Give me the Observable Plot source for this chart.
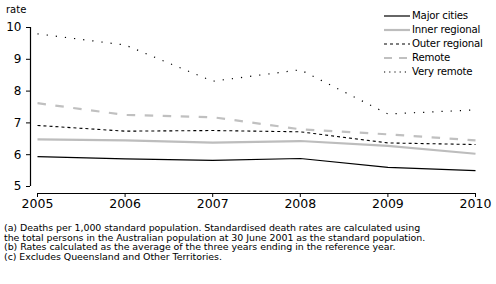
<!DOCTYPE html>
<html>
<head>
<meta charset="utf-8">
<script src="https://cdn.jsdelivr.net/npm/d3@7"></script>
<script src="https://cdn.jsdelivr.net/npm/@observablehq/plot@0.6"></script>
<style>
  html, body { margin: 0; padding: 0; background: #fff; }
  #wrap { position: relative; width: 496px; height: 284px; font-family: "DejaVu Sans", sans-serif; }
  #chart svg { display: block; }
  #legend { position: absolute; left: 384px; top: 9px; font-size: 10.2px; line-height: 14px; color: #000; }
  #legend .row { display: flex; align-items: center; height: 14px; white-space: nowrap; letter-spacing: -0.2px; }
  #legend svg { display: block; margin-right: 2px; }
  #notes { position: absolute; left: 4px; top: 223px; font-size: 9.45px; line-height: 9.6px; color: #000; white-space: nowrap; letter-spacing: -0.05px; }
  #ylabel { position: absolute; left: 6px; top: 4px; font-size: 10px; }
</style>
</head>
<body>
<div id="wrap">
  <div id="chart"></div>
  <div id="ylabel">rate</div>
  <div id="legend"></div>
  <div id="notes"></div>
</div>
<script>
const years = [2005, 2006, 2007, 2008, 2009, 2010];
const majorCities   = [5.94, 5.87, 5.82, 5.88, 5.60, 5.50];
const innerRegional = [6.48, 6.45, 6.38, 6.43, 6.28, 6.03];
const outerRegional = [6.92, 6.74, 6.76, 6.72, 6.37, 6.32];
const remote        = [7.62, 7.25, 7.18, 6.80, 6.64, 6.45];
const veryRemote    = [9.80, 9.45, 8.31, 8.67, 7.28, 7.41];

const seriesNames = ["Major cities", "Inner regional", "Outer regional", "Remote", "Very remote"];
const seriesValues = [majorCities, innerRegional, outerRegional, remote, veryRemote];
const yTicks = [5, 6, 7, 8, 9, 10];
const xTicks = years;
const footnotes = [
  "(a) Deaths per 1,000 standard population. Standardised death rates are calculated using",
  "the total persons in the Australian population at 30 June 2001 as the standard population.",
  "(b) Rates calculated as the average of the three years ending in the reference year.",
  "(c) Excludes Queensland and Other Territories."
];

const styles = {
  "Major cities":   {stroke: "#000", strokeWidth: 1.2, dash: null, legendDash: null},
  "Inner regional": {stroke: "#bdbdbd", strokeWidth: 2.2, dash: null, legendDash: null},
  "Outer regional": {stroke: "#000", strokeWidth: 1.1, dash: "3,3", legendDash: "3,3"},
  "Remote":         {stroke: "#c0c0c0", strokeWidth: 2.2, dash: "8.5,9.5", legendDash: "8,7"},
  "Very remote":    {stroke: "#000", strokeWidth: 1.2, dash: "1.2,8", legendDash: "1.2,4"}
};

const data = seriesNames.map((name, i) => years.map((yr, j) => ({series: name, year: yr, value: seriesValues[i][j]})));

const lineMarks = data.map((rows) => {
  const s = styles[rows[0].series];
  return Plot.line(rows, {x: "year", y: "value", stroke: s.stroke, strokeWidth: s.strokeWidth, strokeDasharray: s.dash, strokeLinecap: "butt"});
});

const chart = Plot.plot({
  width: 496,
  height: 215,
  marginLeft: 30,
  marginRight: 21,
  marginTop: 27,
  marginBottom: 22,
  style: {fontFamily: "'DejaVu Sans', sans-serif", fontSize: "12px", color: "#000", background: "#fff"},
  x: {domain: [2005, 2010], range: [37, 475]},
  y: {domain: [5, 10], range: [186, 27]},
  marks: [
    Plot.ruleX([2005], {y1: 5, y2: 10, dx: -7, stroke: "#000", strokeWidth: 1.2}),
    Plot.ruleY([5], {x1: 2005, x2: 2010, dy: 7, stroke: "#000", strokeWidth: 1.2}),
    Plot.axisY({ticks: yTicks, tickSize: 4, tickPadding: 5, label: null, tickFormat: d3.format("d"), fontSize: 12}),
    Plot.axisX({ticks: xTicks, tickSize: 4, tickPadding: 2, label: null, tickFormat: d3.format("d"), fontSize: 12.5}),
    ...lineMarks
  ]
});
document.getElementById("chart").appendChild(chart);

const legend = document.getElementById("legend");
seriesNames.forEach((name) => {
  const s = styles[name];
  const row = document.createElement("div");
  row.className = "row";
  const svg = d3.create("svg").attr("width", 26).attr("height", 8);
  svg.append("line").attr("x1", 0).attr("x2", 26).attr("y1", 4).attr("y2", 4)
    .attr("stroke", s.stroke).attr("stroke-width", s.strokeWidth)
    .attr("stroke-dasharray", s.legendDash);
  row.appendChild(svg.node());
  const t = document.createElement("span");
  t.textContent = name;
  row.appendChild(t);
  legend.appendChild(row);
});

const notes = document.getElementById("notes");
footnotes.forEach((f) => { const d = document.createElement("div"); d.textContent = f; notes.appendChild(d); });
</script>
</body>
</html>
